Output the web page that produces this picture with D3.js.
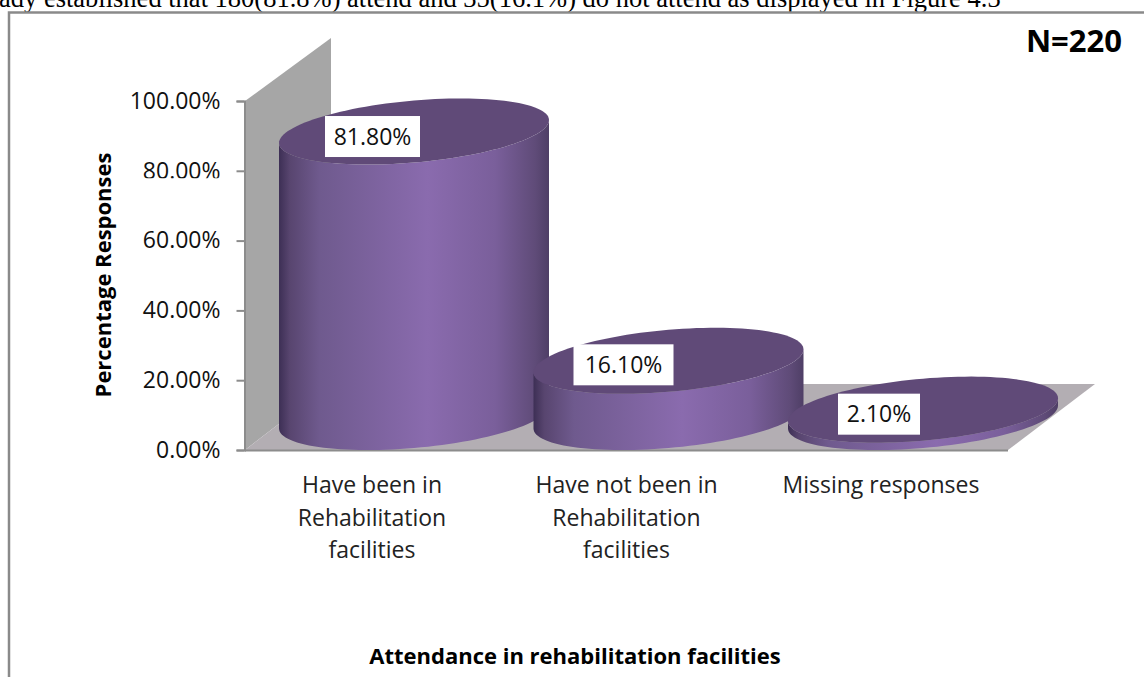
<!DOCTYPE html>
<html><head><meta charset="utf-8">
<script src="https://cdn.jsdelivr.net/npm/d3@7/dist/d3.min.js"></script>
<style>html,body{margin:0;padding:0;background:#fff;overflow:hidden}svg{display:block}</style>
</head><body><svg id="c" width="1144" height="677"></svg>
<script>
const categories=[["Have been in","Rehabilitation","facilities"],["Have not been in","Rehabilitation","facilities"],["Missing responses"]];
const values=[81.8,16.1,2.1];
const valueLabels=["81.80%","16.10%","2.10%"];
const ticks=[0,20,40,60,80,100];
const pageText="ady established that 180(81.8%) attend and 35(16.1%) do not attend as displayed in Figure 4.3";
const sans="'Open Sans',sans-serif";
const fs=23;

const svg=d3.select("#c");
const y=d3.scaleLinear().domain([0,100]).range([450,101]);
const x=d3.scalePoint().domain(d3.range(3)).range([414,923]);
const depthX=86, depthY=66;
const baseCy=417;
const a=135,b=31,shear=0.085;

const defs=svg.append("defs");
const g=defs.append("linearGradient").attr("id","cyl").attr("x1","0").attr("x2","1").attr("y1","0").attr("y2","0");
[[0,"#3d2f55"],[0.04,"#58456f"],[0.15,"#6f5a8e"],[0.55,"#8a6bae"],[0.8,"#7a5f9b"],[0.95,"#5f4b78"],[1,"#4f3f66"]]
 .forEach(d=>g.append("stop").attr("offset",d[0]).attr("stop-color",d[1]));
defs.append("clipPath").attr("id","cut80tick").append("rect").attr("x",-130).attr("y",-25).attr("width",140).attr("height",32);

svg.append("text").attr("x",-1).attr("y",7).attr("font-family","'Liberation Serif',serif").attr("font-size",26.5).attr("fill","#000").text(pageText);
svg.append("path").attr("d","M9,677V12.5H1144").attr("fill","none").attr("stroke","#8a8a8a").attr("stroke-width",2.5);

// walls
const yZero=y(0), yTop=y(100), xRight=1008, xLeft=245;
svg.append("path").attr("d",d3.line()([[xLeft,yTop],[xLeft+depthX,yTop-depthY+3],[xLeft+depthX,yZero-depthY],[xLeft,yZero]])+"Z").attr("fill","#a6a6a6");
svg.append("path").attr("d",d3.line()([[xLeft,yZero],[xLeft+depthX,yZero-depthY],[xRight+depthX+1,yZero-depthY],[xRight,yZero]])+"Z").attr("fill","#b3aeb3");
svg.append("line").attr("x1",xLeft).attr("x2",xRight).attr("y1",yZero+.5).attr("y2",yZero+.5).attr("stroke","#8c8c8c").attr("stroke-width",2);

// value axis
const ax=svg.append("g").attr("transform",`translate(${xLeft-.5},0)`)
  .call(d3.axisLeft(y).tickValues(ticks).tickSize(8).tickPadding(16).tickFormat(t=>d3.format(".2f")(t)+"%"));
ax.selectAll("path,line").attr("stroke","#8c8c8c").attr("stroke-width",2);
ax.selectAll("text").attr("font-family",sans).attr("font-size",fs).attr("fill","#111");
ax.selectAll(".tick").filter(t=>t===80).select("text").attr("clip-path","url(#cut80tick)");

// cylinders
const ell=(cx,cy,t)=>[cx+a*Math.cos(t),cy+b*Math.sin(t)-shear*a*Math.cos(t)];
const topY=v=>baseCy-(y(0)-y(v));
const line=d3.line();
values.forEach((v,i)=>{
  const cx=x(i), cyT=topY(v);
  const lower=d3.range(0,Math.PI+.001,Math.PI/60);
  const side=lower.map(t=>ell(cx,baseCy,t)).concat(lower.map(t=>ell(cx,cyT,t)).reverse());
  svg.append("path").attr("d",line(side)+"Z").attr("fill","url(#cyl)");
  const all=d3.range(0,2*Math.PI,Math.PI/60).map(t=>ell(cx,cyT,t));
  svg.append("path").attr("d",line(all)+"Z").attr("fill","#604a78");
});

// data labels
const labelDx=[-41.5,-45,-44], labelDy=[5,4,4.5], labelW=[95,100,82];
values.forEach((v,i)=>{
  const w=labelW[i], h=41, cx=x(i)+labelDx[i], cy=topY(v)+labelDy[i];
  svg.append("rect").attr("x",cx-w/2).attr("y",cy-h/2).attr("width",w).attr("height",h).attr("fill","#fff");
  svg.append("text").attr("x",cx).attr("y",cy+8).attr("text-anchor","middle").attr("font-family",sans).attr("font-size",fs).attr("fill","#111").text(valueLabels[i]);
});

// category labels
categories.forEach((c,i)=>c.forEach((s,j)=>{
  svg.append("text").attr("x",x(i)-42).attr("y",493+j*32.5).attr("text-anchor","middle").attr("font-family",sans).attr("font-size",fs).attr("fill","#222").text(s);
}));

svg.append("text").attr("x",575).attr("y",664).attr("text-anchor","middle").attr("font-family",sans).attr("font-weight",700).attr("font-size",22).attr("fill","#000").text("Attendance in rehabilitation  facilities");
svg.append("text").attr("transform","translate(111,275) rotate(-90)").attr("text-anchor","middle").attr("font-family",sans).attr("font-weight",700).attr("font-size",22).attr("fill","#000").text("Percentage Responses");
svg.append("text").attr("x",1122).attr("y",52).attr("text-anchor","end").attr("font-family",sans).attr("font-weight",700).attr("font-size",31).attr("fill","#000").text("N=220");
</script></body></html>
